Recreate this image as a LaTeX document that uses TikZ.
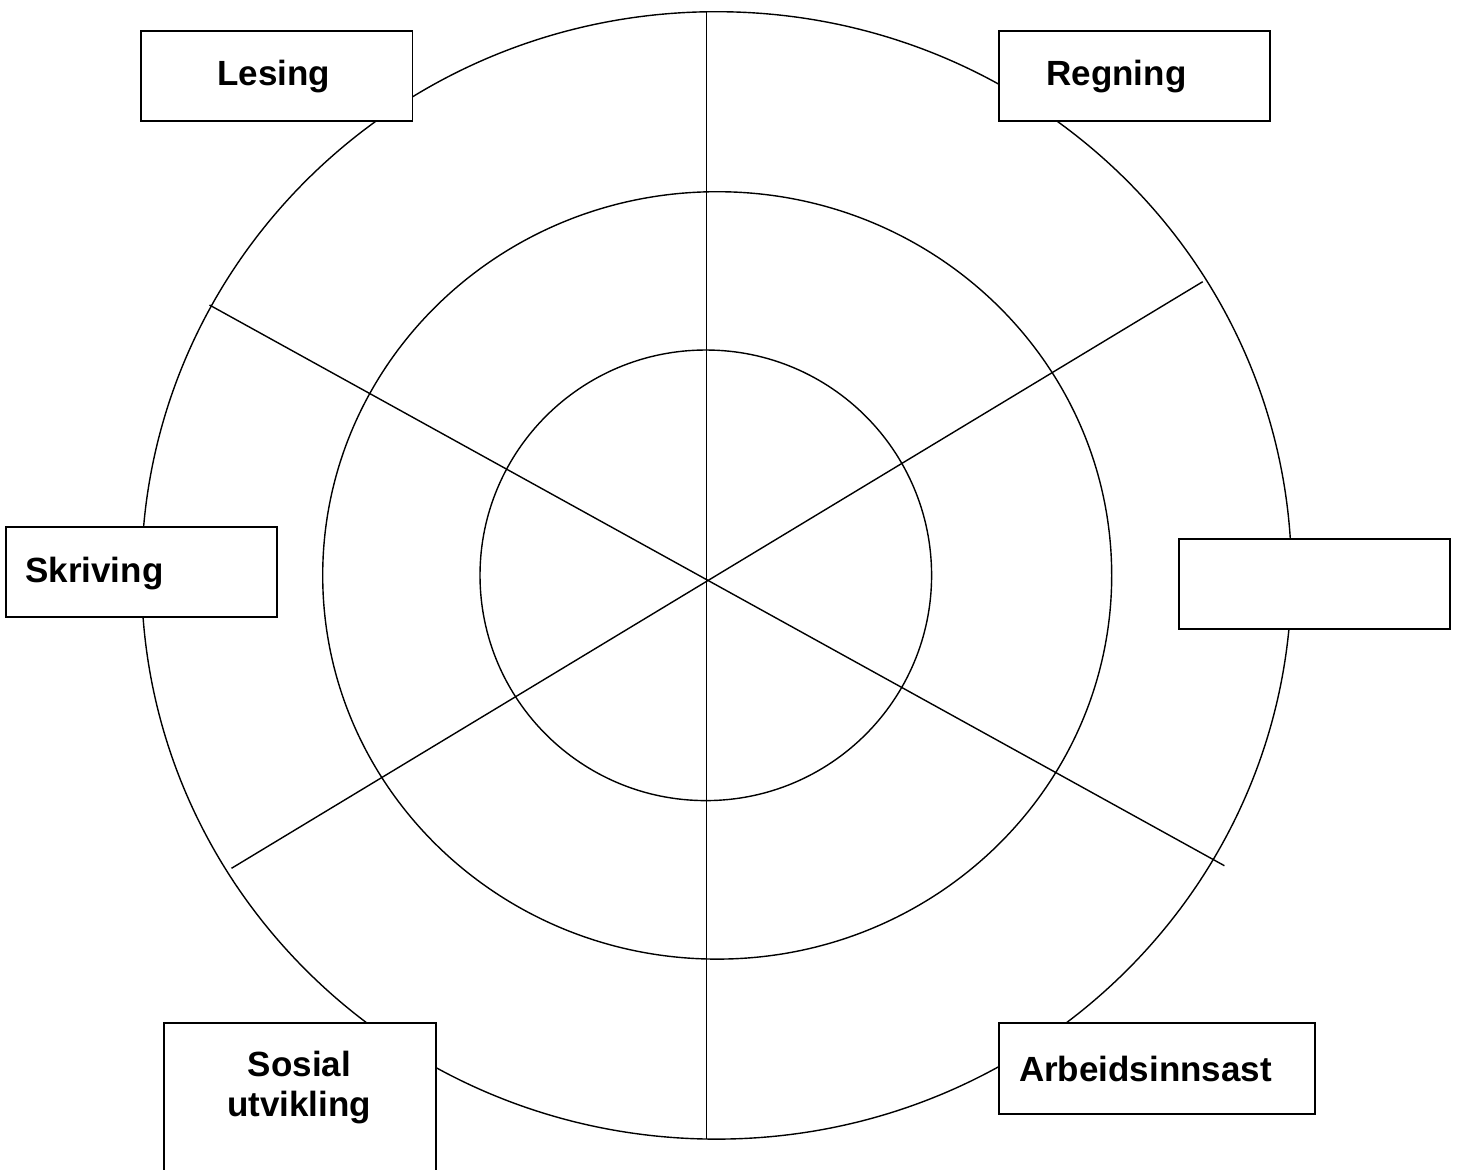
\documentclass[tikz,border=0pt]{standalone}
\usepackage{fontspec}
\setmainfont{Liberation Sans}
\begin{document}
\begin{tikzpicture}[x=0.5pt,y=-0.5pt,
  ring/.style={line width=0.7pt},
  spoke/.style={line width=0.7pt},
  box/.style={draw, line width=0.9pt, fill=white, rectangle, inner sep=0pt, outer sep=0pt, anchor=north west},
  lbl/.style={font=\bfseries\fontsize{17.5pt}{20pt}\selectfont, inner sep=0pt, outer sep=0pt}]
\useasboundingbox (0,0) rectangle (1458,1169);
\clip (0,0) rectangle (1458,1169);
% rings
\draw[ring] (716.5,575.4) ellipse [x radius=287.5pt, y radius=281.85pt];
\draw[ring] (717.2,575.4) ellipse [x radius=197.25pt, y radius=191.85pt];
\draw[ring] (705.8,575.3) ellipse [x radius=112.9pt, y radius=112.65pt];
% spokes
\coordinate (vT) at (706.5,11.7);
\coordinate (vB) at (706.5,1139);
\coordinate (aUL) at (209.5,305);
\coordinate (aLR) at (1224.4,865.7);
\coordinate (bUR) at (1202.7,281.7);
\coordinate (bLL) at (231.5,868.3);
\draw[spoke, line width=0.85pt] (vT) -- (vB);
\draw[spoke] (aUL) -- (aLR);
\draw[spoke] (bUR) -- (bLL);
% boxes
\node[box, minimum width=135.75pt, minimum height=45.15pt] (bLesing) at (141,30.7) {};
\node[box, minimum width=135.55pt, minimum height=45.15pt] (bRegning) at (998.7,30.7) {};
\node[box, minimum width=135.65pt, minimum height=45pt] (bSkriving) at (6,526.7) {};
\node[box, minimum width=135.65pt, minimum height=45.15pt] (bEmpty) at (1179,539) {};
\node[box, minimum width=135.85pt, minimum height=90pt] (bSosial) at (164.3,1023.3) {};
\node[box, minimum width=158.05pt, minimum height=45.2pt] (bArbeid) at (998.7,1023.3) {};
% labels
\node[lbl, anchor=base] (tLesing) at (273.7,85) {Lesing};
\node[lbl, anchor=base] (tRegning) at (1116.4,85) {Regning};
\node[lbl, anchor=base west] (tSkriving) at (25.3,582.7) {Skriving};
\node[lbl, anchor=base] (tSosial) at (299.5,1076.7) {Sosial};
\node[lbl, anchor=base] (tUtvikling) at (299.2,1116.7) {utvikling};
\node[lbl, anchor=base west] (tArbeid) at (1019,1081) {Arbeidsinnsast};
\end{tikzpicture}
\end{document}
